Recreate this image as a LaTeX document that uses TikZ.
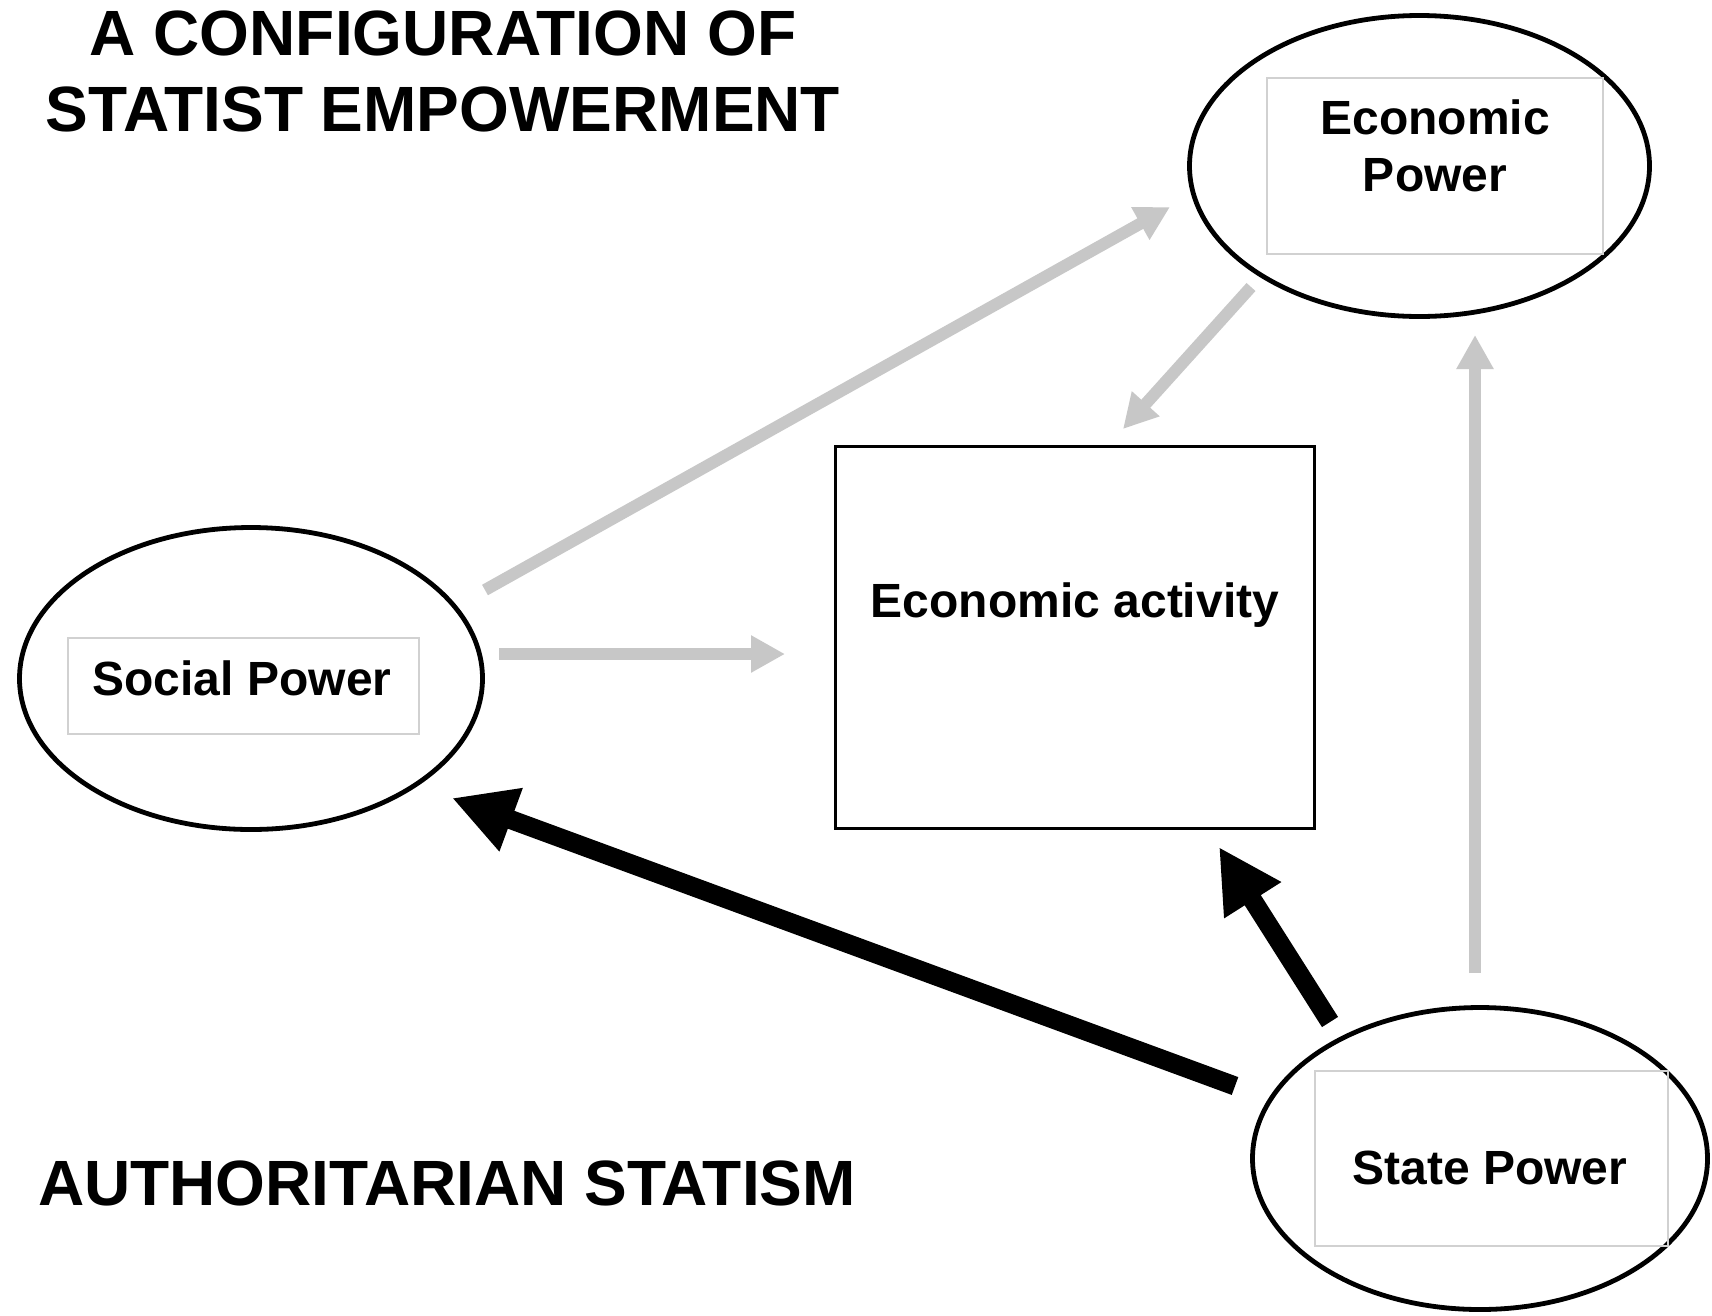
\documentclass[tikz,border=0pt]{standalone}
\usepackage{fontspec}
\setmainfont{Liberation Sans}
\usetikzlibrary{arrows.meta,shapes.geometric}
\begin{document}
\begin{tikzpicture}[x=1pt,y=-1pt,
  bigtitle/.style={font=\fontsize{64}{76}\selectfont\bfseries, inner sep=0pt, anchor=base},
  oval/.style={ellipse, draw=black, line width=4.8pt, inner sep=0pt},
  innerbox/.style={draw=black!18, line width=1.2pt, inner sep=0pt},
  lbl/.style={font=\fontsize{48}{58}\selectfont\bfseries, inner sep=0pt, anchor=base, align=center},
  grayarrow/.style={draw=black!22, line width=12pt, -{Triangle[length=34pt,width=35pt]}},
  blackarrow/.style={draw=black, line width=19pt, -{Triangle[length=63pt,width=63pt]}}
]
\path[use as bounding box, fill=white] (0,0) rectangle (1712,1315);

% titles
\node[bigtitle] (t1) at (443,55) {A CONFIGURATION OF};
\node[bigtitle] (t2) at (443,131) {STATIST EMPOWERMENT};
\node[bigtitle] (t3) at (447,1205) {AUTHORITARIAN STATISM};

% ellipses
\node[oval, minimum width=460pt, minimum height=301pt] (ep) at (1419.5,166) {};
\node[oval, minimum width=463pt, minimum height=302pt] (sp) at (251,678.5) {};
\node[oval, minimum width=455pt, minimum height=302pt] (st) at (1480,1158.5) {};

% inner light boxes
\node[innerbox, minimum width=336pt, minimum height=176pt] (epbox) at (1435,166) {};
\node[innerbox, minimum width=351pt, minimum height=96pt] (spbox) at (243.5,686) {};
\node[innerbox, minimum width=353pt, minimum height=175pt] (stbox) at (1491.5,1158.5) {};

% labels
\node[lbl] (eplbl1) at (1435,134) {Economic};
\node[lbl] (eplbl2) at (1435,191) {Power};
\node[lbl] (splbl) at (242,695) {Social Power};
\node[lbl] (stlbl) at (1490,1184) {State Power};

% economic activity box
\node[draw=black, line width=3.5pt, minimum width=479pt, minimum height=382pt, inner sep=0pt] (ea) at (1075,637.5) {};
\node[lbl] (ealbl) at (1075,617) {Economic activity};

% connector end points
\coordinate (a1s) at (485,590);
\coordinate (a1e) at (1170,207);
\coordinate (a2s) at (499,654);
\coordinate (a2e) at (785,654);
\coordinate (a3s) at (1251,287);
\coordinate (a3e) at (1123,429);
\coordinate (a4s) at (1475,973);
\coordinate (a4e) at (1475,335);
\coordinate (b1s) at (1235,1086);
\coordinate (b1e) at (452,798);
\coordinate (b2s) at (1330,1022);
\coordinate (b2e) at (1219,847);

% gray arrows
\draw[grayarrow] (a1s) -- (a1e);
\draw[grayarrow] (a2s) -- (a2e);
\draw[grayarrow] (a3s) -- (a3e);
\draw[grayarrow] (a4s) -- (a4e);

% black arrows
\draw[blackarrow] (b1s) -- (b1e);
\draw[blackarrow] (b2s) -- (b2e);
\end{tikzpicture}
\end{document}
